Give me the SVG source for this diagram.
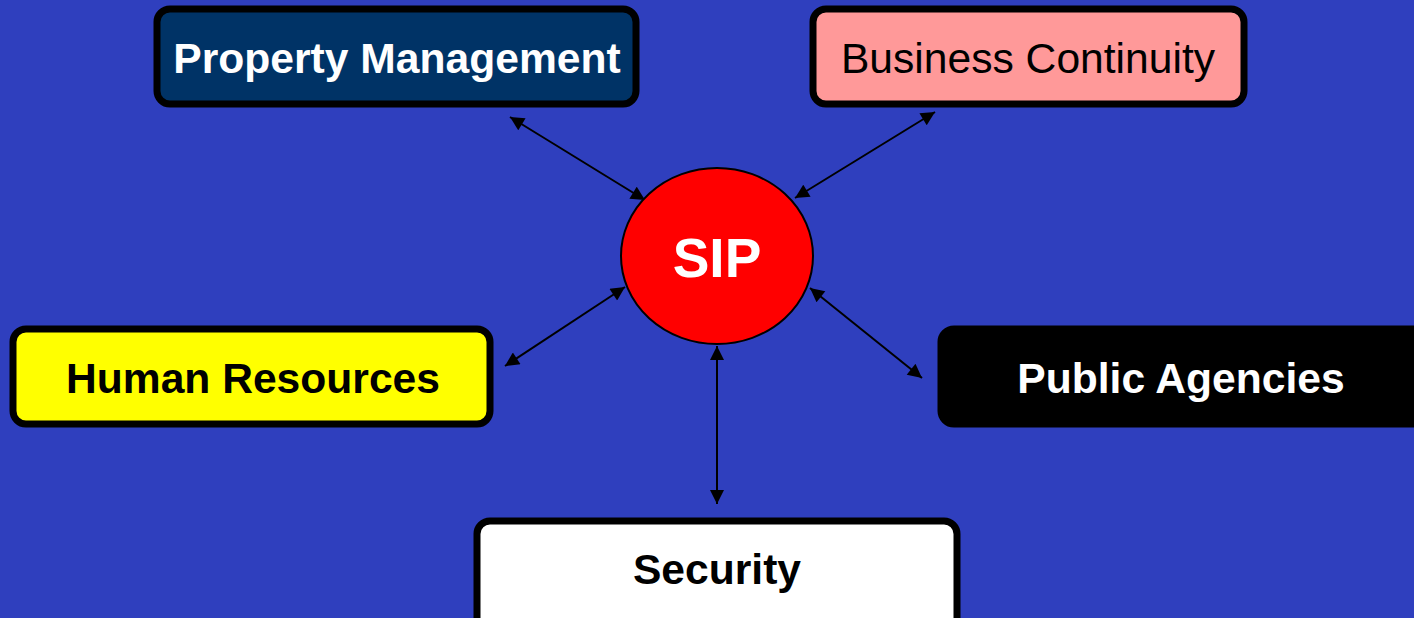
<svg xmlns="http://www.w3.org/2000/svg" width="1414" height="618" viewBox="0 0 1414 618">
<style>
.box{stroke:#000;stroke-width:7}
.lbl{font-family:"Liberation Sans",Arial,sans-serif;font-size:42.6px;text-anchor:middle}
.b{font-weight:bold}
.conn{stroke:#000;stroke-width:2;fill:none;marker-start:url(#ah);marker-end:url(#ah)}
</style>
<defs>
<marker id="ah" viewBox="0 0 10 10" refX="10" refY="5" markerWidth="8" markerHeight="7" markerUnits="strokeWidth" orient="auto-start-reverse">
<path d="M0,0 L10,5 L0,10 z" fill="#000"/>
</marker>
</defs>
<rect width="1414" height="618" fill="#2f3fbe"/>
<g id="connectors">
<line class="conn" x1="510" y1="117" x2="645" y2="200"/>
<line class="conn" x1="935" y1="112" x2="795" y2="198"/>
<line class="conn" x1="505" y1="366" x2="625" y2="287"/>
<line class="conn" x1="922" y1="378" x2="810" y2="288"/>
<line class="conn" x1="717" y1="346" x2="717" y2="504"/>
</g>
<g id="property-management">
<rect class="box" x="157" y="9" width="479" height="95" rx="13" fill="#003366"/>
<text class="lbl b" x="397" y="73" fill="#fff">Property Management</text>
</g>
<g id="business-continuity">
<rect class="box" x="813" y="9" width="431" height="95" rx="13" fill="#ff9999"/>
<text class="lbl" x="1028" y="73" fill="#000">Business Continuity</text>
</g>
<g id="sip">
<ellipse cx="717" cy="256" rx="96" ry="88" fill="#ff0000" stroke="#000" stroke-width="2"/>
<text class="lbl b" x="717" y="277" fill="#fff" style="font-size:55px">SIP</text>
</g>
<g id="human-resources">
<rect class="box" x="13" y="329" width="477" height="95" rx="13" fill="#ffff00"/>
<text class="lbl b" x="253" y="393" fill="#000">Human Resources</text>
</g>
<g id="public-agencies">
<rect class="box" x="941" y="329" width="490" height="95" rx="13" fill="#000"/>
<text class="lbl b" x="1181" y="393" fill="#fff">Public Agencies</text>
</g>
<g id="security">
<rect class="box" x="477" y="521" width="480" height="110" rx="13" fill="#fff"/>
<text class="lbl b" x="717" y="584" fill="#000">Security</text>
</g>
</svg>
